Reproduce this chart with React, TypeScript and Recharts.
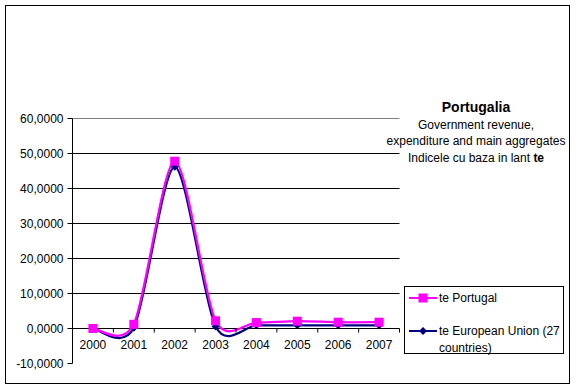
import React from 'react';
import {
  LineChart,
  Line,
  XAxis,
  YAxis,
  ReferenceLine,
  Legend,
} from 'recharts';

const YEARS = ['2000', '2001', '2002', '2003', '2004', '2005', '2006', '2007'];
const PORTUGAL = [0, 1.2, 47.8, 2.2, 1.7, 2.1, 1.8, 1.8];
const EU27 = [0, 0.2, 46.2, 0.6, 0.9, 0.9, 0.9, 0.9];
const Y_TICKS = [-10, 0, 10, 20, 30, 40, 50, 60];
const GRID_VALUES = [0, 10, 20, 30, 40, 50];
const TITLE = 'Portugalia';
const SUBTITLE = ['Government revenue,', 'expenditure and main aggregates'];

const FONT = '"Liberation Sans", Arial, sans-serif';
const PINK = '#ff00ff';
const NAVY = '#000080';

const W = 576;
const H = 390;
// half-pixel margins keep the 1px rules crisp
const MARGIN = { top: 118.5, right: 176.5, bottom: 0.5, left: 0.5 };
const Y_AXIS_W = 72;
const X_AXIS_H = 26;
const PLOT_H = H - MARGIN.top - MARGIN.bottom - X_AXIS_H;
const ZERO_Y = MARGIN.top + (PLOT_H * 60) / 70;
const PLOT_W = W - MARGIN.left - MARGIN.right - Y_AXIS_W;
const STEP = PLOT_W / YEARS.length;

const data = YEARS.map((year, i) => ({ year, pt: PORTUGAL[i], eu: EU27[i] }));

// Excel-like smoothed line: bezier through every point, softened tangents
const TENSION = 0.14;
function smoothCurve(context: any) {
  let pts: number[][] = [];
  return {
    areaStart() {},
    areaEnd() {},
    lineStart() {
      pts = [];
    },
    point(x: number, y: number) {
      pts.push([+x, +y]);
    },
    lineEnd() {
      if (!pts.length) return;
      context.moveTo(pts[0][0], pts[0][1]);
      for (let i = 0; i < pts.length - 1; i++) {
        const p0 = pts[i - 1] || pts[i];
        const p1 = pts[i];
        const p2 = pts[i + 1];
        const p3 = pts[i + 2] || p2;
        context.bezierCurveTo(
          p1[0] + (p2[0] - p0[0]) * TENSION,
          p1[1] + (p2[1] - p0[1]) * TENSION,
          p2[0] - (p3[0] - p1[0]) * TENSION,
          p2[1] - (p3[1] - p1[1]) * TENSION,
          p2[0],
          p2[1],
        );
      }
    },
  };
}

const SquareDot = (props: any) => {
  const { cx, cy, index } = props;
  if (cx == null || cy == null) return null;
  return <rect key={index} x={cx - 4.5} y={cy - 4.5} width={9} height={9} fill={PINK} />;
};

const DiamondDot = (props: any) => {
  const { cx, cy, index } = props;
  if (cx == null || cy == null) return null;
  return (
    <path
      key={index}
      d={`M${cx},${cy - 4}L${cx + 4},${cy}L${cx},${cy + 4}L${cx - 4},${cy}Z`}
      fill={NAVY}
    />
  );
};

const YearTick = (props: any) => {
  const { x, payload, index } = props;
  return (
    <g>
      <line x1={x - STEP / 2} x2={x - STEP / 2} y1={ZERO_Y} y2={ZERO_Y + 4} stroke="#000" />
      {index === YEARS.length - 1 && (
        <line x1={x + STEP / 2} x2={x + STEP / 2} y1={ZERO_Y} y2={ZERO_Y + 4} stroke="#000" />
      )}
      <text x={x} y={ZERO_Y + 20} textAnchor="middle" fontSize={12} fontFamily={FONT} fill="#000">
        {payload.value}
      </text>
    </g>
  );
};

const LegendBox = () => (
  <div style={{ fontFamily: FONT, fontSize: 12, color: '#000' }}>
    <div style={{ display: 'flex', alignItems: 'center', height: 20, marginTop: 1 }}>
      <svg width={30} height={12}>
        <line x1={0} x2={28} y1={6} y2={6} stroke={PINK} strokeWidth={2} />
        <rect x={9.5} y={1.5} width={9} height={9} fill={PINK} />
      </svg>
      <span>te Portugal</span>
    </div>
    <div style={{ display: 'flex', alignItems: 'flex-start', marginTop: 15 }}>
      <svg width={30} height={12} style={{ flex: 'none', marginTop: 2 }}>
        <line x1={0} x2={28} y1={6} y2={6} stroke={NAVY} strokeWidth={2} />
        <path d="M14,2L18,6L14,10L10,6Z" fill={NAVY} />
      </svg>
      <span style={{ lineHeight: '17px' }}>te European Union (27 countries)</span>
    </div>
  </div>
);

export default function App() {
  return (
    <div style={{ position: 'absolute', left: 0, top: 0, width: W, height: H, background: '#fff' }}>
      <div
        style={{
          position: 'absolute',
          left: 5,
          top: 5,
          width: 563,
          height: 377,
          border: '1px solid #000',
        }}
      />
      <LineChart width={W} height={H} data={data} margin={MARGIN} style={{ position: 'absolute', left: 0, top: 0 }}>
        <XAxis
          dataKey="year"
          height={X_AXIS_H}
          axisLine={false}
          tickLine={false}
          interval={0}
          padding={{ left: STEP / 2, right: STEP / 2 }}
          tick={<YearTick />}
        />
        <YAxis
          width={Y_AXIS_W}
          domain={[-10, 60]}
          ticks={Y_TICKS}
          interval={0}
          axisLine={{ stroke: '#000' }}
          tickLine={{ stroke: '#000' }}
          tickSize={5}
          tickMargin={4}
          tick={{ fill: '#000', fontSize: 12, fontFamily: FONT }}
          tickFormatter={(v: number) => v.toFixed(4).replace('.', ',')}
        />
        <YAxis
          yAxisId="frame"
          orientation="right"
          width={0}
          domain={[-10, 60]}
          tick={false}
          tickLine={false}
          axisLine={{ stroke: '#808080' }}
        />
        <ReferenceLine y={60} stroke="#808080" />
        {GRID_VALUES.map((v) => (
          <ReferenceLine key={v} y={v} stroke="#000" />
        ))}
        <Line
          dataKey="eu"
          type={smoothCurve as any}
          stroke={NAVY}
          strokeWidth={2.25}
          dot={<DiamondDot />}
          activeDot={false}
          isAnimationActive={false}
        />
        <Line
          dataKey="pt"
          type={smoothCurve as any}
          stroke={PINK}
          strokeWidth={2.25}
          dot={<SquareDot />}
          activeDot={false}
          isAnimationActive={false}
        />
        <Legend
          layout="vertical"
          align="center"
          verticalAlign="middle"
          content={<LegendBox />}
          wrapperStyle={{
            left: 404,
            top: 286,
            width: 160,
            height: 68,
            border: '1px solid #000',
            background: '#fff',
            padding: '0 0 0 4px',
            boxSizing: 'border-box',
          }}
        />
      </LineChart>
      <div
        style={{
          position: 'absolute',
          left: 380,
          top: 99,
          width: 192,
          textAlign: 'center',
          fontFamily: FONT,
          fontSize: 12,
          lineHeight: '16.5px',
          color: '#000',
        }}
      >
        <div style={{ fontWeight: 'bold', fontSize: 14, marginBottom: 1 }}>{TITLE}</div>
        {SUBTITLE.map((s) => (
          <div key={s}>{s}</div>
        ))}
        <div>
          Indicele cu baza in lant <b>te</b>
        </div>
      </div>
    </div>
  );
}
